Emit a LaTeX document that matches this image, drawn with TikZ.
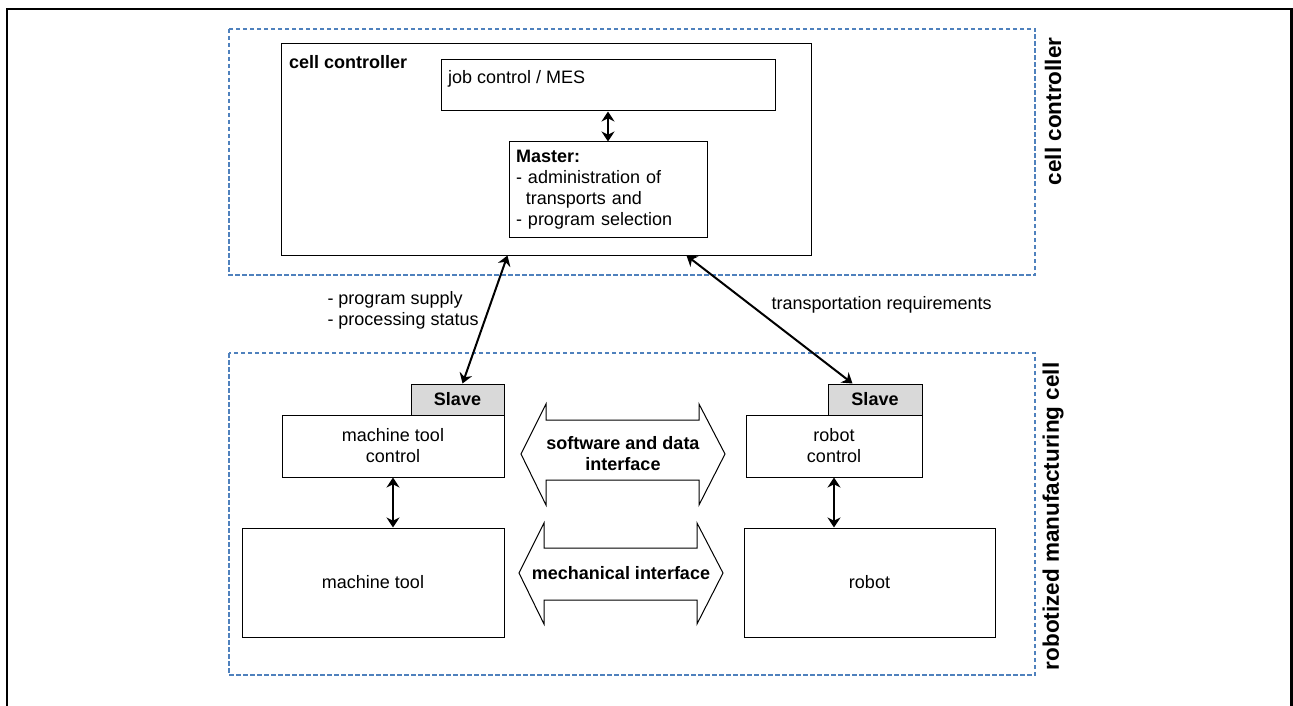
\documentclass[tikz,border=0pt]{standalone}
\usepackage{fontspec}
\setmainfont{Liberation Sans}
\usetikzlibrary{arrows.meta}
\definecolor{cellblue}{RGB}{79,129,189}
\begin{document}
\begin{tikzpicture}[x=1pt,y=-1pt,line width=1pt,
      font=\fontsize{18}{21}\selectfont,
      bold/.style={font=\fontsize{18}{21}\selectfont\bfseries},
      box/.style={draw,rectangle,inner sep=0pt},
      slavebox/.style={box,fill=black!15,bold},
      pfeil/.style={line width=2pt,{Stealth[length=10pt,width=13pt]}-{Stealth[length=10pt,width=13pt]}},
      zone/.style={draw=cellblue,line width=2.2pt,dash pattern=on 4.5pt off 2.5pt},
      sidetext/.style={rotate=90,anchor=east,inner sep=0pt,font=\fontsize{22.5}{26}\selectfont\bfseries},
      iface/.style={draw,line width=1pt,fill=white},
      mytext/.style={align=left,inner sep=0pt}]
    \useasboundingbox (0,0) rectangle (1293,706);
    \draw[line width=2.5pt] (7,706) -- (7,9) -- (1291.5,9) -- (1291.5,706);
    % the two areas
    \draw[zone] (229,29) rectangle (1035,275);
    \draw[zone] (229,353) rectangle (1035,675);
    \node[sidetext] (czone) at (1053,37) {cell controller};
    \node[sidetext] (rzone) at (1053,362) {robotized manufacturing cell};
    % cell controller
    \node[box,minimum width=530,minimum height=211,
      label={[anchor=north west,inner xsep=8pt,inner ysep=11pt,bold]north west:cell controller}]
      at (546,149.5) (cc) {};
    \node[box,minimum width=334,minimum height=51,
      label={[anchor=north west,inner xsep=7pt,inner ysep=10pt]north west:job control / MES}]
      at (608,85.5) (job) {};
    \node[box,mytext,text width=184,minimum width=198,minimum height=95] at (608,189.5) (master)
      {\textbf{Master:}\\- administration of\\\hspace*{0.55em}transports and\\- program selection};
    \draw[pfeil] (job) -- (master);
    % machine tool side
    \node[slavebox,minimum width=93,minimum height=31] at (457.5,399.5) (slaveA) {Slave};
    \node[box,align=center,minimum width=222,minimum height=62] at (393,446) (mtc) {machine tool\\control};
    \node[box,minimum width=262,minimum height=109] at (373,582.5) (mtool) {machine tool};
    \draw[pfeil] (mtc.south) -- (mtc.south |- mtool.north);
    % robot side
    \node[slavebox,minimum width=94,minimum height=31] at (875,399.5) (slaveB) {Slave};
    \node[box,align=center,minimum width=176,minimum height=62] at (834,446) (rctrl) {robot\\control};
    \node[box,minimum width=251,minimum height=109] at (869.5,582.5) (robot) {robot};
    \draw[pfeil] (rctrl.south) -- (rctrl.south |- robot.north);
    % interfaces
    \draw[iface] (521,454) -- (546,404) -- (546,420) -- (699,420) -- (699,404) -- (725,454)
      -- (699,505) -- (699,480) -- (546,480) -- (546,505) -- cycle;
    \node[align=center,bold] at (623,454) (swif) {software and data\\interface};
    \draw[iface] (519,573) -- (544,523) -- (544,548) -- (697,548) -- (697,523) -- (723,573)
      -- (697,624) -- (697,600) -- (544,600) -- (544,624) -- cycle;
    \node[bold] at (621,573) (mechif) {mechanical interface};
    % master - slave links
    \draw[pfeil] ([xshift=227pt]cc.south west) -- ([xshift=52pt]slaveA.north west);
    \draw[pfeil] ([xshift=406pt]cc.south west) -- ([xshift=25pt]slaveB.north west);
    \node[mytext,anchor=north west] at (327,291) (supply) {- program supply\\- processing status};
    \node[mytext,anchor=base west] at (771,309) (transp) {transportation requirements};
  \end{tikzpicture}
\end{document}
